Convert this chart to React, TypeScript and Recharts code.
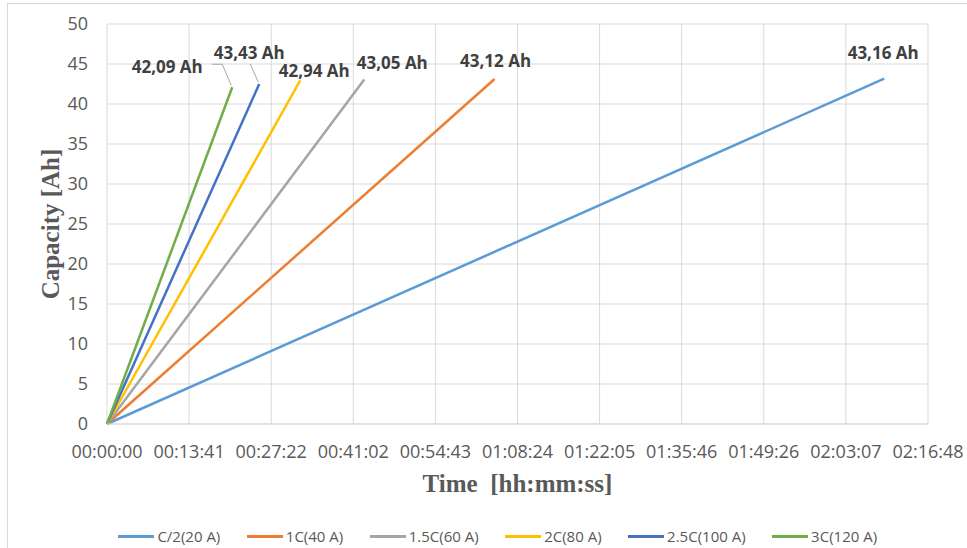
import { LineChart, Line, XAxis, YAxis, CartesianGrid, Legend, LabelList } from 'recharts'

// series: C-rate discharge tests, capacity [Ah] vs time [s]
const seriesNames = ['C/2(20 A)', '1C(40 A)', '1.5C(60 A)', '2C(80 A)', '2.5C(100 A)', '3C(120 A)']
const seriesColors = ['#5B9BD5', '#ED7D31', '#A5A5A5', '#FFC000', '#4472C4', '#70AD47']

const c2Points = [{ t: 0, cap: 0 }, { t: 7770, cap: 43.16 }]
const c1Points = [{ t: 0, cap: 0 }, { t: 3875, cap: 43.12 }]
const c15Points = [{ t: 0, cap: 0 }, { t: 2572, cap: 43.05 }]
const c20Points = [{ t: 0, cap: 0 }, { t: 1932, cap: 42.94 }]
const c25Points = [{ t: 0, cap: 0 }, { t: 1522, cap: 42.5 }]
const c30Points = [{ t: 0, cap: 0 }, { t: 1252, cap: 42.09 }]
const seriesPoints = [c2Points, c1Points, c15Points, c20Points, c25Points, c30Points]

const endLabels = ['43,16 Ah', '43,12 Ah', '43,05 Ah', '42,94 Ah', '43,43 Ah', '42,09 Ah']

const timeTicks = [0, 820.8, 1641.6, 2462.4, 3283.2, 4104, 4924.8, 5745.6, 6566.4, 7387.2, 8208]
const capTicks = [0, 5, 10, 15, 20, 25, 30, 35, 40, 45, 50]

// label offsets from the end point (dx, dy to text centre) + optional leader line
const labelOffsets = [
  { dx: -1, dy: -26, leader: false },
  { dx: 1, dy: -19, leader: false },
  { dx: 28, dy: -17, leader: false },
  { dx: 14, dy: -10, leader: false },
  { dx: -10, dy: -32, leader: true },
  { dx: -65, dy: -21, leader: true },
]

const pad = (n: number) => String(n).padStart(2, '0')
const fmtTime = (v: number) => {
  const s = Math.round(v)
  return `${pad(Math.floor(s / 3600))}:${pad(Math.floor((s % 3600) / 60))}:${pad(s % 60)}`
}

const tickFont = { fontFamily: 'Open Sans', fontSize: 18, fill: '#595959' }
const titleFont = { fontFamily: 'Liberation Serif', fontSize: 25, fontWeight: 700, fill: '#595959' }

function EndLabel(props: any, i: number) {
  const { x, y, index } = props
  if (index !== seriesPoints[i].length - 1) return null
  const o = labelOffsets[i]
  const tx = x + o.dx
  const ty = y + o.dy
  let leader = null
  if (o.leader) {
    if (i === 5) {
      leader = <polyline points={`${x - 20},${y - 23} ${x - 10},${y - 23} ${x - 1},${y - 2}`} fill="none" stroke="#A6A6A6" strokeWidth={1} />
    } else {
      leader = <polyline points={`${x - 9},${y - 20} ${x - 1},${y - 2}`} fill="none" stroke="#A6A6A6" strokeWidth={1} />
    }
  }
  return (
    <g>
      {leader}
      <text x={tx} y={ty} textAnchor="middle" dominantBaseline="central" fontFamily="Open Sans" fontSize={17} fontWeight={700} fill="#404040">
        {endLabels[i]}
      </text>
    </g>
  )
}

function LegendRow() {
  return (
    <div style={{ height: 44, display: 'flex', justifyContent: 'center', alignItems: 'flex-end', paddingLeft: 94 }}>
      {seriesNames.map((name, i) => (
        <div key={name} style={{ display: 'flex', alignItems: 'center', marginRight: 26.5, marginBottom: 2 }}>
          <div style={{ width: 36, height: 3, background: seriesColors[i], marginRight: 3 }} />
          <span style={{ fontFamily: 'Open Sans', fontSize: 15, color: '#595959' }}>{name}</span>
        </div>
      ))}
    </div>
  )
}

export default function App() {
  return (
    <div style={{ position: 'relative', width: 967, height: 548, overflow: 'hidden', background: '#fff' }}>
      <style>{'body{margin:0}'}</style>
      <div style={{ position: 'absolute', left: 7, top: 3, width: 1000, height: 600, border: '1px solid #d9d9d9' }} />
      <LineChart width={967} height={548} margin={{ top: 24, right: 39, bottom: 0, left: 0 }}>
        <CartesianGrid stroke="#d9d9d9" />
        <XAxis
          type="number"
          dataKey="t"
          domain={[0, 8208]}
          ticks={timeTicks}
          tickFormatter={fmtTime}
          tick={tickFont}
          tickLine={false}
          axisLine={{ stroke: '#d9d9d9' }}
          tickMargin={15}
          height={80}
          interval={0}
          label={{ value: 'Time\u00a0\u00a0[hh:mm:ss]', position: 'insideBottom', offset: 12, style: titleFont }}
        />
        <YAxis
          type="number"
          domain={[0, 50]}
          ticks={capTicks}
          tick={tickFont}
          tickLine={false}
          axisLine={false}
          tickMargin={13}
          width={107}
          interval={0}
          label={{ value: 'Capacity [Ah]', angle: -90, position: 'insideLeft', offset: 50, style: { ...titleFont, textAnchor: 'middle' } }}
        />
        <Legend verticalAlign="bottom" content={() => <LegendRow />} />
        {seriesPoints.map((pts, i) => (
          <Line
            key={seriesNames[i]}
            name={seriesNames[i]}
            data={pts}
            dataKey="cap"
            stroke={seriesColors[i]}
            strokeWidth={2.5}
            dot={false}
            activeDot={false}
            isAnimationActive={false}
          >
            <LabelList dataKey="cap" content={(p: any) => EndLabel(p, i)} />
          </Line>
        ))}
      </LineChart>
    </div>
  )
}
